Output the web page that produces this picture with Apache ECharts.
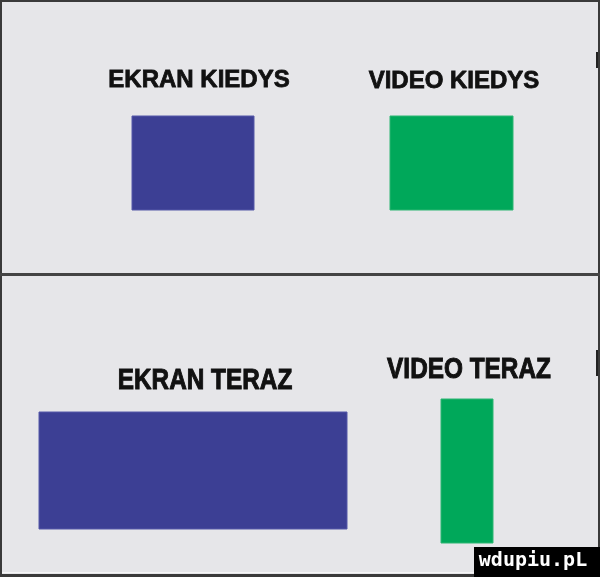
<!DOCTYPE html>
<html>
<head>
<meta charset="utf-8">
<script src="https://cdn.jsdelivr.net/npm/echarts@6/dist/echarts.min.js"></script>
<style>
html,body{margin:0;padding:0;background:#e6e6e9;}
#c{width:600px;height:577px;}
</style>
</head>
<body>
<div id="c"></div>
<script>
// Blocks (axis units: x 0..600, y 0..577 from top)
const categories = ['EKRAN KIEDYS', 'VIDEO KIEDYS', 'EKRAN TERAZ', 'VIDEO TERAZ'];
const blockLeft   = [132, 390, 39, 441];
const blockRight  = [254, 513, 347, 493];
const blockTop    = [116, 116, 412, 399];
const blockBottom = [210, 210, 529, 543];
const blockKind   = ['ekran', 'video', 'ekran', 'video'];
// Title centres
const titleX = [199, 454, 205, 469];
const titleY = [80, 81, 381, 370];
const titleRow = ['top', 'top', 'bottom', 'bottom'];

const colors = { ekran: '#3c3f94', video: '#00a85a' };

const chart = echarts.init(document.getElementById('c'), null, { renderer: 'canvas' });

const blockData = categories.map((c, i) => [blockLeft[i], blockRight[i], blockTop[i], blockBottom[i], i]);
const titleData = categories.map((c, i) => [titleX[i], titleY[i], i]);

chart.setOption({
  backgroundColor: '#e6e6e9',
  animation: false,
  grid: { left: 0, right: 0, top: 0, bottom: 0 },
  xAxis: { type: 'value', min: 0, max: 600, show: false },
  yAxis: { type: 'value', min: 0, max: 577, inverse: true, show: false },
  series: [
    {
      type: 'custom',
      data: blockData,
      renderItem: function (params, api) {
        const i = api.value(4);
        const p0 = api.coord([api.value(0), api.value(2)]);
        const p1 = api.coord([api.value(1), api.value(3)]);
        return {
          type: 'rect',
          shape: { x: p0[0], y: p0[1], width: p1[0] - p0[0], height: p1[1] - p0[1] },
          style: { fill: colors[blockKind[i]], stroke: blockKind[i] === 'ekran' ? '#5558a8' : '#2db673', lineWidth: 1 }
        };
      }
    },
    {
      type: 'custom',
      data: titleData,
      renderItem: function (params, api) {
        const i = api.value(2);
        const p = api.coord([api.value(0), api.value(1)]);
        const top = titleRow[i] === 'top';
        return {
          type: 'text',
          x: p[0], y: p[1],
          scaleX: top ? 1 : 0.84,
          style: {
            text: categories[i],
            fill: '#111111',
            stroke: '#111111',
            lineWidth: top ? 0.8 : 1.0,
            fontFamily: '"Liberation Sans", Arial, sans-serif',
            fontWeight: 'bold',
            fontSize: top ? 24 : 29,
            align: 'center',
            verticalAlign: 'middle'
          }
        };
      }
    }
  ],
  graphic: [
    { type: 'rect', shape: { x: 0, y: 0, width: 600, height: 2 }, style: { fill: '#3a3a3a' } },
    { type: 'rect', shape: { x: 0, y: 574, width: 600, height: 3 }, style: { fill: '#3a3a3a' } },
    { type: 'rect', shape: { x: 0, y: 572, width: 600, height: 1 }, style: { fill: '#f6f6f6' } },
    { type: 'rect', shape: { x: 0, y: 0, width: 2, height: 577 }, style: { fill: '#3a3a3a' } },
    { type: 'rect', shape: { x: 598, y: 0, width: 2, height: 577 }, style: { fill: '#3a3a3a' } },
    { type: 'rect', shape: { x: 0, y: 273, width: 600, height: 3 }, style: { fill: '#444444' } },
    { type: 'rect', shape: { x: 596, y: 52, width: 2, height: 16 }, style: { fill: '#222' } },
    { type: 'rect', shape: { x: 596, y: 350, width: 2, height: 26 }, style: { fill: '#222' } },
    { type: 'rect', shape: { x: 474, y: 547, width: 126, height: 30 }, style: { fill: '#000000' } },
    { type: 'text', x: 533, y: 561, style: { text: 'wdupiu.pL', fill: '#ffffff', fontFamily: '"DejaVu Sans Mono", monospace', fontWeight: 'bold', fontSize: 20, align: 'center', verticalAlign: 'middle' } }
  ]
});
</script>
</body>
</html>
